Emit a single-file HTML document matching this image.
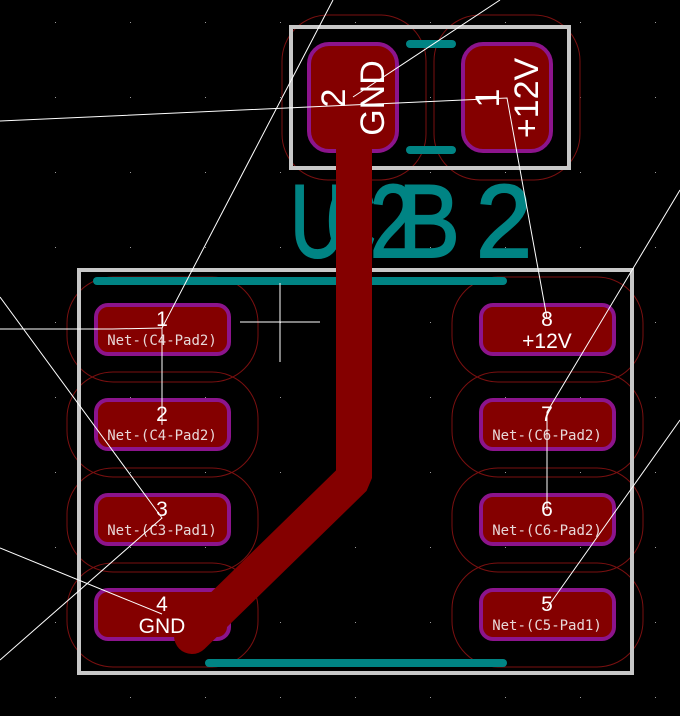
<!DOCTYPE html>
<html><head><meta charset="utf-8"><style>
html,body{margin:0;padding:0;background:#000;}
svg{display:block;}
text{font-family:"Liberation Sans","DejaVu Sans",sans-serif;}
.num{fill:#fff;font-size:21px;text-anchor:middle;}
.net{fill:#e8d8d8;font-family:"DejaVu Sans Mono","Liberation Mono",monospace;font-size:14px;text-anchor:middle;}
.silk{fill:#008484;stroke:#008484;stroke-width:2;font-size:104px;}
</style></head><body>
<svg width="680" height="716" viewBox="0 0 680 716" xmlns="http://www.w3.org/2000/svg">
<defs>
<pattern id="g" x="0" y="0" width="75" height="75" patternUnits="userSpaceOnUse">
<rect x="55" y="22" width="1" height="1" fill="#999"/>
</pattern>
</defs>
<rect width="680" height="716" fill="#000"/>
<rect width="680" height="716" fill="url(#g)"/>

<g fill="none" stroke="#7a1010" stroke-width="1">
<rect x="282" y="15" width="144" height="165" rx="46"/>
<rect x="434" y="15" width="146" height="165" rx="46"/>
<rect x="67" y="277" width="191" height="105" rx="46"/>
<rect x="67" y="372" width="191" height="105" rx="46"/>
<rect x="67" y="468" width="191" height="104" rx="46"/>
<rect x="67" y="563" width="191" height="104" rx="46"/>
<rect x="452" y="277" width="191" height="105" rx="46"/>
<rect x="452" y="372" width="191" height="105" rx="46"/>
<rect x="452" y="468" width="191" height="104" rx="46"/>
<rect x="452" y="563" width="191" height="104" rx="46"/>
</g>

<g fill="none" stroke="#c8c8c8" stroke-width="4">
<rect x="291" y="27" width="278" height="141"/>
<rect x="79" y="270" width="553" height="403"/>
</g>

<g stroke="#008484" stroke-linecap="round">
<line x1="410" y1="44" x2="452" y2="44" stroke-width="8"/>
<line x1="410" y1="150" x2="452" y2="150" stroke-width="8"/>
<line x1="97" y1="281" x2="503" y2="281" stroke-width="8"/>
<line x1="209" y1="663" x2="503" y2="663" stroke-width="8"/>
</g>
<text class="silk" x="290" y="257" textLength="56" lengthAdjust="spacingAndGlyphs">U</text>
<text class="silk" x="326" y="257" textLength="50" lengthAdjust="spacingAndGlyphs">C</text>
<text class="silk" x="370" y="257" textLength="46" lengthAdjust="spacingAndGlyphs">2</text>
<text class="silk" x="398" y="257" textLength="62" lengthAdjust="spacingAndGlyphs">B</text>
<text class="silk" x="476" y="257" textLength="56" lengthAdjust="spacingAndGlyphs">2</text>

<g fill="#840000" stroke="#8c148c" stroke-width="4">
<rect x="309" y="44" width="88" height="107" rx="20"/>
<rect x="463" y="44" width="88" height="107" rx="20"/>
<rect x="96" y="305" width="133" height="49" rx="12"/>
<rect x="96" y="400" width="133" height="49" rx="12"/>
<rect x="96" y="495" width="133" height="49" rx="12"/>
<rect x="96" y="590" width="133" height="49" rx="12"/>
<rect x="481" y="305" width="133" height="49" rx="12"/>
<rect x="481" y="400" width="133" height="49" rx="12"/>
<rect x="481" y="495" width="133" height="49" rx="12"/>
<rect x="481" y="590" width="133" height="49" rx="12"/>
</g>

<polyline points="354,150 354,478 192,636" fill="none" stroke="#840000" stroke-width="36" stroke-linejoin="bevel" stroke-linecap="round"/>

<g fill="#fff" font-size="34">
<text transform="translate(345,98) rotate(-90)" text-anchor="middle">2</text>
<text transform="translate(384,98) rotate(-90)" text-anchor="middle">GND</text>
<text transform="translate(499,98) rotate(-90)" text-anchor="middle">1</text>
<text transform="translate(538,98) rotate(-90)" text-anchor="middle">+12V</text>
</g>
<text class="num" x="162" y="326">1</text><text class="net" x="162" y="345">Net-(C4-Pad2)</text>
<text class="num" x="162" y="421">2</text><text class="net" x="162" y="440">Net-(C4-Pad2)</text>
<text class="num" x="162" y="516">3</text><text class="net" x="162" y="535">Net-(C3-Pad1)</text>
<text class="num" x="162" y="611">4</text><text class="num" x="162" y="633">GND</text>
<text class="num" x="547" y="326">8</text><text class="num" x="547" y="348">+12V</text>
<text class="num" x="547" y="421">7</text><text class="net" x="547" y="440">Net-(C6-Pad2)</text>
<text class="num" x="547" y="516">6</text><text class="net" x="547" y="535">Net-(C6-Pad2)</text>
<text class="num" x="547" y="611">5</text><text class="net" x="547" y="630">Net-(C5-Pad1)</text>

<g stroke="#fff" stroke-width="1" fill="none">
<polyline points="0,121 507,98 547,318"/>
<polyline points="333,0 162,328 162,425"/>
<polyline points="0,329 112,329 162,328"/>
<line x1="500" y1="0" x2="353" y2="97"/>
<polyline points="0,297 162,518 0,660"/>
<line x1="0" y1="548" x2="162" y2="614"/>
<polyline points="680,190 547,412 547,510"/>
<line x1="680" y1="420" x2="547" y2="608"/>
<line x1="240" y1="322" x2="320" y2="322"/>
<line x1="280" y1="283" x2="280" y2="362"/>
</g>
</svg>
</body></html>
